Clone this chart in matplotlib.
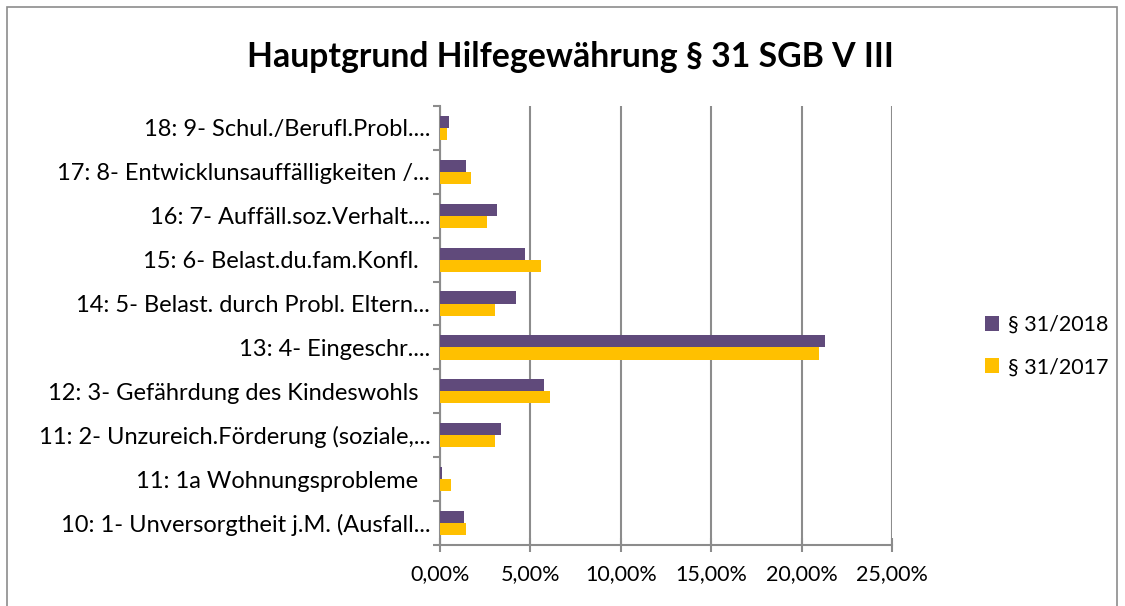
import matplotlib
matplotlib.use("Agg")
import matplotlib.pyplot as plt
from matplotlib.patches import Rectangle
from matplotlib.ticker import FuncFormatter, FixedLocator
import numpy as np

categories = [
    "10: 1- Unversorgtheit j.M. (Ausfall...",
    "11: 1a Wohnungsprobleme  ",
    "11: 2- Unzureich.Förderung (soziale,...",
    "12: 3- Gefährdung des Kindeswohls  ",
    "13: 4- Eingeschr....",
    "14: 5- Belast. durch Probl. Eltern...",
    "15: 6- Belast.du.fam.Konfl.  ",
    "16: 7- Auffäll.soz.Verhalt....",
    "17: 8- Entwicklunsauffälligkeiten /...",
    "18: 9- Schul./Berufl.Probl....",
]
s2018 = [1.31, 0.11, 3.39, 5.76, 21.29, 4.18, 4.71, 3.13, 1.44, 0.51]
s2017 = [1.44, 0.59, 3.04, 6.09, 20.97, 3.04, 5.60, 2.58, 1.70, 0.37]
series_names = ["§ 31/2018", "§ 31/2017"]
xticks = [0, 5, 10, 15, 20, 25]

plt.rcParams['font.family'] = ['Lato', 'DejaVu Sans']

W, H = 1125, 606
fig = plt.figure(figsize=(W/100, H/100), dpi=100)
ax = fig.add_axes([440/W, 1-545/H, (892-440)/W, (545-106)/H])

y = np.arange(len(categories))
h = 0.275
ax.barh(y + h/2, s2018, height=h, color="#604A7B", label=series_names[0], zorder=3)
ax.barh(y - h/2, s2017, height=h, color="#FFC000", label=series_names[1], zorder=3)

ax.set_xlim(0, 25)
ax.set_ylim(-0.5, len(categories) - 0.5)
ax.set_xticks(xticks)
ax.xaxis.set_major_formatter(FuncFormatter(lambda v, p: f"{v:.2f}%".replace(".", ",")))
ax.set_yticks(y)
ax.set_yticklabels(categories)
ax.yaxis.set_minor_locator(FixedLocator(np.arange(-0.5, len(categories), 1)))
ax.tick_params(axis='y', which='major', length=0, pad=7, labelsize=17, colors='black')
ax.tick_params(axis='y', which='minor', length=5, width=1.5, color='#8c8c8c')
ax.tick_params(axis='x', direction='inout', length=10, width=1.5, color='#8c8c8c',
               pad=9, labelsize=15.5, labelcolor='black')
ax.grid(axis='x', color='#8c8c8c', linewidth=1.5, zorder=0)
for s in ['top', 'right']:
    ax.spines[s].set_visible(False)
for s in ['left', 'bottom']:
    ax.spines[s].set_color('#8c8c8c')
    ax.spines[s].set_linewidth(1.5)

fig.text(570/W, 1-57/H, "Hauptgrund Hilfegewährung § 31 SGB V III", ha='center', va='center',
         fontsize=24.3, fontweight='bold')

leg = fig.legend(loc='center left', bbox_to_anchor=(966/W, 1-346/H), frameon=False,
                 fontsize=15.5, handlelength=0.65, handleheight=0.7, labelspacing=1.05,
                 handletextpad=0.4)

fig.patches.append(Rectangle((7/W, -0.01), (1117-7)/W, 1-7/H + 0.01, transform=fig.transFigure,
                             fill=False, edgecolor='#8c8c8c', linewidth=1.2))

fig.savefig("out.png", dpi=100)
